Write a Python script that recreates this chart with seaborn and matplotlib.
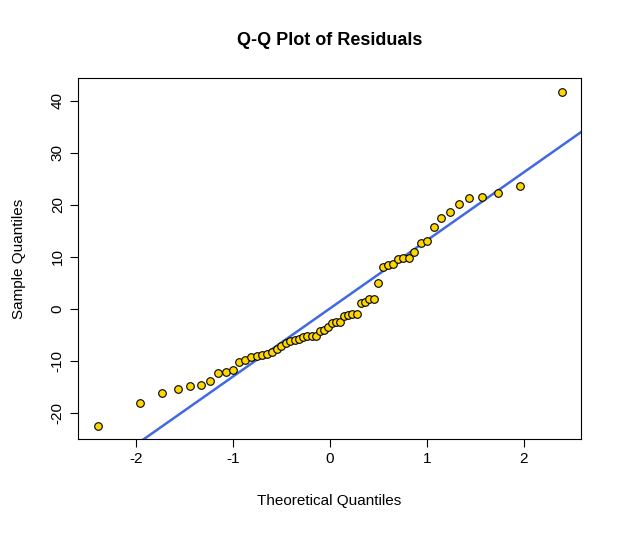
import math
import numpy as np
import pandas as pd
import matplotlib
matplotlib.use("Agg")
import matplotlib.pyplot as plt
import seaborn as sns

# sorted residuals
residuals = [
    -22.5, -18.1, -16.2, -15.4, -14.8, -14.6, -13.8, -12.3, -12.1, -11.7,
    -10.2, -9.8, -9.2, -8.8, -9.0, -8.7, -8.3, -7.7, -7.1, -6.6,
    -6.2, -5.9, -5.7, -5.4, -5.2, -5.2, -5.2, -4.2, -4.0, -3.5,
    -2.7, -2.5, -2.5, -1.3, -1.2, -1.0, -1.0, 1.2, 1.3, 1.9,
    1.9, 5.0, 8.1, 8.5, 8.7, 9.6, 9.8, 9.8, 11.0, 12.7,
    13.0, 15.8, 17.5, 18.7, 20.2, 21.3, 21.5, 22.3, 23.7, 41.7,
]
x_ticks = [-2, -1, 0, 1, 2]
y_ticks = [-20, -10, 0, 10, 20, 30, 40]


def qnorm(p):
    lo, hi = -10.0, 10.0
    for _ in range(100):
        mid = (lo + hi) / 2
        if 0.5 * (1 + math.erf(mid / math.sqrt(2))) < p:
            lo = mid
        else:
            hi = mid
    return (lo + hi) / 2


n = len(residuals)
sample = np.sort(residuals)
theo = np.array([qnorm((i + 0.5) / n) for i in range(n)])
df = pd.DataFrame({"theo": theo, "sample": sample})

# qqline through the quartiles
q1, q3 = np.quantile(sample, [0.25, 0.75])
t1, t3 = qnorm(0.25), qnorm(0.75)
slope = (q3 - q1) / (t3 - t1)
intercept = q1 - slope * t1

sns.set_style("white")
plt.rcParams["font.family"] = ["Liberation Sans", "DejaVu Sans"]
plt.rcParams["axes.unicode_minus"] = False

fig = plt.figure(figsize=(6.22, 5.38), dpi=100)
ax = fig.add_axes([0.1254, 0.184, 0.8086, 0.671])
sns.scatterplot(data=df, x="theo", y="sample", ax=ax, color="#FFD700",
                edgecolor="black", linewidth=0.8, s=30, zorder=3)
xl = np.array([-2.6, 2.6])
ax.plot(xl, intercept + slope * xl, color="#4169E1", lw=1.8, zorder=2)
ax.set_xlim(-2.6, 2.59)
ax.set_ylim(-25.0, 44.4)
ax.set_xticks(x_ticks)
ax.set_yticks(y_ticks)
ax.set_yticklabels([str(v) for v in y_ticks], rotation=90, va="center")
ax.tick_params(direction="out", length=6, width=0.8, labelsize=11, colors="black",
               bottom=True, left=True)
for s in ax.spines.values():
    s.set_color("black")
    s.set_linewidth(0.8)
ax.set_xlabel("Theoretical Quantiles", fontsize=11, labelpad=20, color="black")
ax.set_ylabel("Sample Quantiles", fontsize=11, labelpad=18, color="black")
ax.set_title("Q-Q Plot of Residuals", fontsize=13, fontweight="bold", pad=24,
             color="black")
fig.savefig("out.png", dpi=100)
